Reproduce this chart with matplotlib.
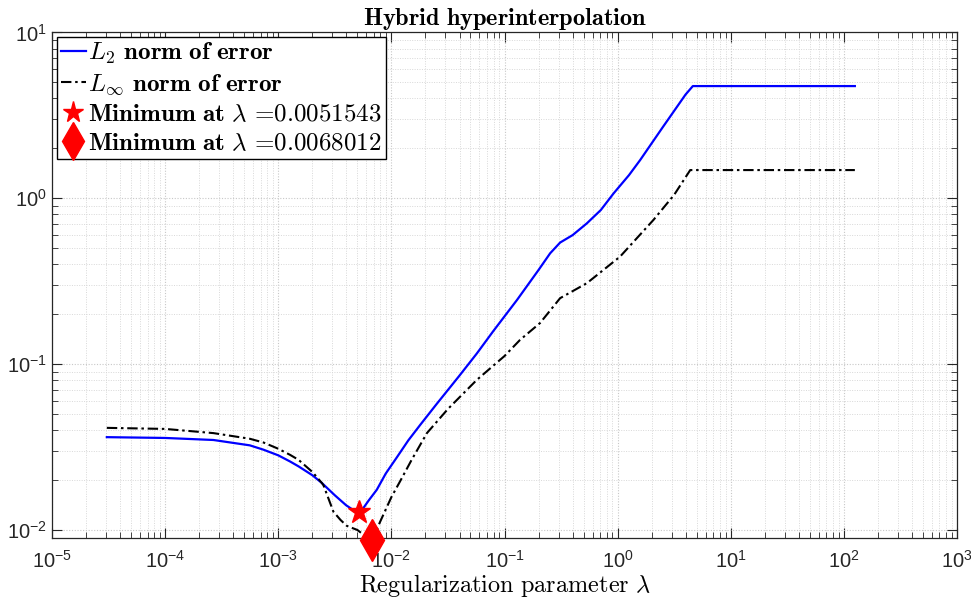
import matplotlib
matplotlib.use("Agg")
import matplotlib.pyplot as plt
from matplotlib.ticker import LogLocator, NullFormatter

plt.rcParams['font.family'] = ['Liberation Sans', 'DejaVu Sans']
plt.rcParams['mathtext.fontset'] = 'custom'
plt.rcParams['mathtext.rm'] = 'Liberation Sans'
plt.rcParams['mathtext.it'] = 'Liberation Sans:italic'
plt.rcParams['mathtext.bf'] = 'Liberation Sans:bold'

# ---- data ----
lam_l2 = [3.05e-5, 1.0e-4, 2.67e-4, 5.6e-4, 7.4e-4, 1.0e-3, 1.27e-3, 1.51e-3,
          2.0e-3, 2.43e-3, 3.16e-3, 3.98e-3, 4.6e-3, 5.1543e-3, 5.62e-3, 6.31e-3,
          7.43e-3, 8.91e-3, 1.12e-2, 1.41e-2, 1.80e-2, 2.51e-2, 3.98e-2,
          5.69e-2, 7.94e-2, 0.129, 0.20, 0.253, 0.31, 0.40, 0.535, 0.71,
          0.92, 1.26, 1.58, 2.51, 3.98, 4.62, 125.0]
l2_err = [0.0363, 0.0359, 0.0349, 0.0324, 0.0305, 0.0282, 0.0259, 0.0242,
          0.0214, 0.0192, 0.0162, 0.0141, 0.0132, 0.0129, 0.0135, 0.0151,
          0.0175, 0.0219, 0.0275, 0.0347, 0.0431, 0.0575, 0.085,
          0.116, 0.158, 0.244, 0.37, 0.466, 0.541, 0.60, 0.707, 0.85,
          1.07, 1.38, 1.70, 2.69, 4.22, 4.75, 4.75]

lam_inf = [3.05e-5, 1.0e-4, 2.67e-4, 5.6e-4, 7.4e-4, 1.0e-3, 1.27e-3, 1.51e-3,
           2.0e-3, 2.43e-3, 2.51e-3, 3.07e-3, 3.55e-3, 4.03e-3, 5.01e-3,
           5.66e-3, 6.8012e-3, 7.94e-3, 1.0e-2, 1.19e-2, 1.51e-2, 2.06e-2,
           3.16e-2, 5.69e-2, 0.10, 0.137, 0.206, 0.31, 0.535, 1.05, 2.07,
           3.16, 4.38, 125.0]
inf_err = [0.0413, 0.0407, 0.0384, 0.0355, 0.0337, 0.0309, 0.0284, 0.0265,
           0.0224, 0.0192, 0.0186, 0.0129, 0.0115, 0.0106, 0.0100,
           0.00937, 0.00874, 0.0112, 0.0158, 0.0196, 0.0265, 0.0384,
           0.0537, 0.0804, 0.112, 0.14, 0.177, 0.25, 0.308, 0.445, 0.74,
           1.05, 1.48, 1.48]

min_l2 = (0.0051543, 0.0129)
min_inf = (0.0068012, 0.00874)

x_ticks = [1e-5, 1e-4, 1e-3, 1e-2, 1e-1, 1e0, 1e1, 1e2, 1e3]
y_ticks = [1e-2, 1e-1, 1e0, 1e1]

# ---- figure ----
fig = plt.figure(figsize=(9.71, 6.01), dpi=100)
ax = fig.add_axes([0.0536, 0.104, 0.932, 0.842])
ax.set_xscale('log')
ax.set_yscale('log')

axcol = '#262626'
ax.plot(lam_l2, l2_err, color='#0000ff', lw=1.6,
        label=r'$L_2$ $\mathbf{norm\ of\ error}$')
ax.plot(lam_inf, inf_err, color='black', lw=1.5, linestyle=(0, (5, 1.8, 1.2, 1.8)),
        label=r'$L_\infty$ $\mathbf{norm\ of\ error}$')
ax.plot([min_l2[0]], [min_l2[1]], linestyle='none', marker='*', color='#ff0000',
        markersize=17, clip_on=False, zorder=5,
        label=r'$\mathbf{Minimum\ at}\ \lambda$ =0.0051543')
ax.plot([min_inf[0]], [min_inf[1]], linestyle='none', marker='d', color='#ff0000',
        markersize=21, clip_on=False, zorder=5,
        label=r'$\mathbf{Minimum\ at}\ \lambda$ =0.0068012')

ax.set_xlim(1e-5, 1e3)
ax.set_ylim(0.00889, 10)
ax.set_xticks(x_ticks)
ax.set_yticks(y_ticks)
ax.xaxis.set_minor_locator(LogLocator(base=10, subs=range(2, 10), numticks=100))
ax.yaxis.set_minor_locator(LogLocator(base=10, subs=range(2, 10), numticks=100))
ax.xaxis.set_minor_formatter(NullFormatter())
ax.yaxis.set_minor_formatter(NullFormatter())

ax.tick_params(which='both', direction='in', top=True, right=True, color=axcol,
               labelcolor=axcol, labelsize=14.5)
ax.tick_params(which='major', length=7, width=0.8)
ax.tick_params(which='minor', length=4, width=0.6)
ax.tick_params(axis='x', which='major', pad=8)
for s in ax.spines.values():
    s.set_color(axcol)
    s.set_linewidth(0.9)

ax.grid(True, which='major', color='#c8c8c8', linestyle=(0, (1, 1.5)), lw=0.8)
ax.grid(True, which='minor', color='#d8d8d8', linestyle=(0, (1, 1.5)), lw=0.7)
ax.set_axisbelow(True)

t = ax.set_title(r'$\mathbf{Hybrid\ hyperinterpolation}$', fontsize=17.5, pad=5)
t.set_math_fontfamily('cm')
xl = ax.set_xlabel(r'$\mathrm{Regularization\ parameter}\ \lambda$', fontsize=17.5, labelpad=0)
xl.set_math_fontfamily('cm')

leg = ax.legend(loc='upper left', prop={'family': 'cmr10', 'size': 18},
                frameon=True, fancybox=False,
                edgecolor='black', framealpha=1, handlelength=1.0,
                handletextpad=0.1, borderpad=0.15, labelspacing=0.25,
                borderaxespad=0.2, markerscale=0.9)
leg.get_frame().set_linewidth(1.0)
for tx in leg.get_texts():
    tx.set_math_fontfamily('cm')

fig.savefig('out.png', dpi=100)
